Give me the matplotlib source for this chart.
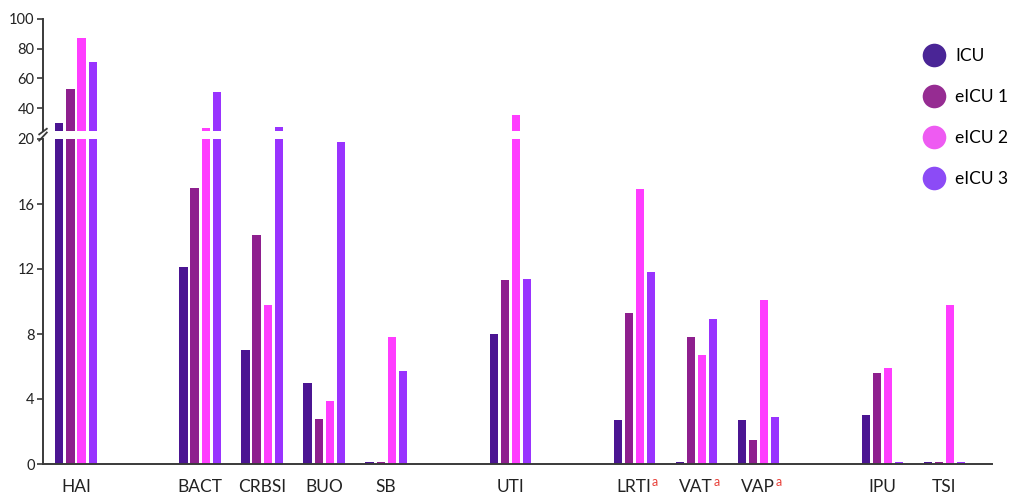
import matplotlib
matplotlib.use("Agg")
import matplotlib.pyplot as plt
from matplotlib.lines import Line2D
import numpy as np

plt.rcParams['font.family'] = ['Lato', 'DejaVu Sans']

categories = ["HAI", "BACT", "CRBSI", "BUO", "SB", "UTI", "LRTI", "VAT", "VAP", "IPU", "TSI"]
superscript = [False, False, False, False, False, False, True, True, True, False, False]
positions = [0, 2, 3, 4, 5, 7, 9, 10, 11, 13, 14]
series_names = ["ICU", "eICU 1", "eICU 2", "eICU 3"]
icu   = [30.0, 12.1, 7.0, 5.0, 0.1, 8.0, 2.7, 0.1, 2.7, 3.0, 0.1]
eicu1 = [53.0, 17.0, 14.1, 2.8, 0.1, 11.3, 9.3, 7.8, 1.5, 5.6, 0.1]
eicu2 = [87.0, 26.5, 9.8, 3.9, 7.8, 35.0, 16.9, 6.7, 10.1, 5.9, 9.8]
eicu3 = [71.0, 50.5, 27.0, 19.8, 5.7, 11.4, 11.8, 8.9, 2.9, 0.1, 0.1]
series = [icu, eicu1, eicu2, eicu3]
bar_colors = ["#4B1592", "#8E1F8E", "#FF3DFF", "#9933FF"]
legend_colors = ["#4A2596", "#962C92", "#EE5BF2", "#8C4BF6"]

low_ticks = [0, 4, 8, 12, 16, 20]
high_ticks = [40, 60, 80, 100]
low_lim = (0, 20)
high_lim = (24.5, 100)

fig = plt.figure(figsize=(10.17, 4.96), dpi=100)
L, R = 43 / 1017, 992 / 1017
ax_lo = fig.add_axes([L, 32 / 496, R - L, 325 / 496])
ax_hi = fig.add_axes([L, 365 / 496, R - L, 112 / 496])

pitch = 0.178
width = 0.13
x = np.array(positions, dtype=float)
for i, (vals, col) in enumerate(zip(series, bar_colors)):
    off = (i - 1.5) * pitch
    ax_lo.bar(x + off, vals, width=width, color=col, linewidth=0)
    ax_hi.bar(x + off, vals, width=width, color=col, linewidth=0)

xlim = (-0.532, 14.77)
spine_col = "#3a3a3a"
for ax in (ax_lo, ax_hi):
    ax.set_xlim(*xlim)
    ax.spines['top'].set_visible(False)
    ax.spines['right'].set_visible(False)
    ax.spines['left'].set_color(spine_col)
    ax.spines['left'].set_linewidth(1.4)
    ax.tick_params(axis='y', direction='out', length=4, width=1.2, color=spine_col,
                   labelsize=10.5, labelcolor="#222222", pad=2)
    ax.set_facecolor('none')

ax_lo.set_ylim(*low_lim)
ax_lo.set_yticks(low_ticks)
ax_lo.spines['bottom'].set_color(spine_col)
ax_lo.spines['bottom'].set_linewidth(1.4)
ax_lo.set_xticks([])

ax_hi.set_ylim(*high_lim)
ax_hi.set_yticks(high_ticks)
ax_hi.spines['bottom'].set_visible(False)
ax_hi.set_xticks([])

# break marks on the left spine
kw = dict(color=spine_col, lw=1.3, clip_on=False)
ax_lo.plot([-0.004, 0.004], [0.995, 1.02], transform=ax_lo.transAxes, **kw)
ax_hi.plot([-0.004, 0.004], [-0.03, 0.02], transform=ax_hi.transAxes, **kw)

# category labels
for cat, pos, sup in zip(categories, positions, superscript):
    t = ax_lo.text(pos, -0.045, cat, transform=ax_lo.get_xaxis_transform(),
                   ha='center', va='top', fontsize=12.5, color="#222222")
    if sup:
        ax_lo.annotate('a', xy=(1.0, 0.78), xycoords=t, xytext=(0.2, 0),
                       textcoords='offset points', ha='left', va='center',
                       fontsize=9, color="#E8413A")

handles = [Line2D([0], [0], marker='o', linestyle='none', markersize=17,
                  markerfacecolor=c, markeredgecolor='none') for c in legend_colors]
fig.legend(handles, series_names, loc='upper left', bbox_to_anchor=(0.893, 0.935),
           frameon=False, fontsize=12.5, labelspacing=1.45, handletextpad=0.6,
           handlelength=1.2)

fig.savefig("out.png", dpi=100)
